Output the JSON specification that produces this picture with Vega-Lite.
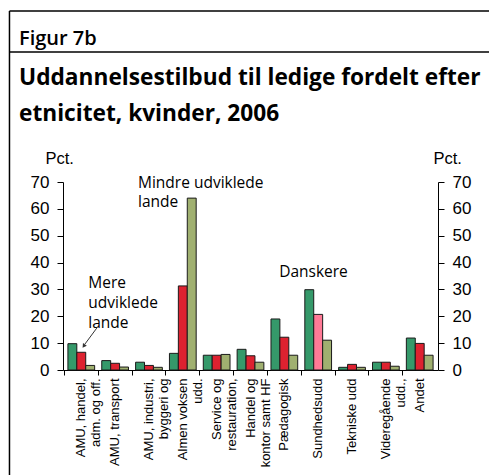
{
  "$schema": "https://vega.github.io/schema/vega-lite/v6.json",
  "width": 375,
  "height": 188,
  "autosize": {"type": "none"},
  "padding": {"left": 63, "top": 182, "right": 51, "bottom": 105},
  "background": "white",
  "title": {
    "text": "Figur 7b",
    "subtitle": ["Uddannelsestilbud til ledige fordelt efter", "etnicitet, kvinder, 2006"],
    "anchor": "start",
    "frame": "group",
    "dx": -44,
    "dy": 130,
    "font": "Open Sans",
    "fontSize": 20,
    "fontWeight": 600,
    "color": "#000000",
    "subtitleFont": "Open Sans",
    "subtitleFontSize": 22.7,
    "subtitleFontWeight": 700,
    "subtitleColor": "#000000",
    "subtitleLineHeight": 36,
    "subtitlePadding": 18,
    "offset": 14
  },
  "config": {
    "view": {"stroke": null},
    "axis": {"domainColor": "#000000", "tickColor": "#000000", "labelColor": "#000000", "titleColor": "#000000", "grid": false}
  },
  "data": {
    "values": [
      {"Uddannelse": "AMU, handel,|adm. og off.", "Gruppe": "Danskere", "Pct": 9.8},
      {"Uddannelse": "AMU, handel,|adm. og off.", "Gruppe": "Mere udviklede lande", "Pct": 6.6},
      {"Uddannelse": "AMU, handel,|adm. og off.", "Gruppe": "Mindre udviklede lande", "Pct": 1.7},
      {"Uddannelse": "AMU, transport", "Gruppe": "Danskere", "Pct": 3.5},
      {"Uddannelse": "AMU, transport", "Gruppe": "Mere udviklede lande", "Pct": 2.5},
      {"Uddannelse": "AMU, transport", "Gruppe": "Mindre udviklede lande", "Pct": 1.1},
      {"Uddannelse": "AMU, industri,|byggeri og", "Gruppe": "Danskere", "Pct": 2.9},
      {"Uddannelse": "AMU, industri,|byggeri og", "Gruppe": "Mere udviklede lande", "Pct": 1.7},
      {"Uddannelse": "AMU, industri,|byggeri og", "Gruppe": "Mindre udviklede lande", "Pct": 1.0},
      {"Uddannelse": "Almen voksen|udd.", "Gruppe": "Danskere", "Pct": 6.2},
      {"Uddannelse": "Almen voksen|udd.", "Gruppe": "Mere udviklede lande", "Pct": 31.3},
      {"Uddannelse": "Almen voksen|udd.", "Gruppe": "Mindre udviklede lande", "Pct": 64.0},
      {"Uddannelse": "Service og|restauration,", "Gruppe": "Danskere", "Pct": 5.5},
      {"Uddannelse": "Service og|restauration,", "Gruppe": "Mere udviklede lande", "Pct": 5.5},
      {"Uddannelse": "Service og|restauration,", "Gruppe": "Mindre udviklede lande", "Pct": 5.8},
      {"Uddannelse": "Handel og|kontor samt HF", "Gruppe": "Danskere", "Pct": 7.7},
      {"Uddannelse": "Handel og|kontor samt HF", "Gruppe": "Mere udviklede lande", "Pct": 5.3},
      {"Uddannelse": "Handel og|kontor samt HF", "Gruppe": "Mindre udviklede lande", "Pct": 2.9},
      {"Uddannelse": "Pædagogisk", "Gruppe": "Danskere", "Pct": 19.0},
      {"Uddannelse": "Pædagogisk", "Gruppe": "Mere udviklede lande", "Pct": 12.2},
      {"Uddannelse": "Pædagogisk", "Gruppe": "Mindre udviklede lande", "Pct": 5.5},
      {"Uddannelse": "Sundhedsudd", "Gruppe": "Danskere", "Pct": 29.9},
      {"Uddannelse": "Sundhedsudd", "Gruppe": "Mere udviklede lande", "Pct": 20.7},
      {"Uddannelse": "Sundhedsudd", "Gruppe": "Mindre udviklede lande", "Pct": 11.1},
      {"Uddannelse": "Tekniske udd", "Gruppe": "Danskere", "Pct": 1.0},
      {"Uddannelse": "Tekniske udd", "Gruppe": "Mere udviklede lande", "Pct": 2.1},
      {"Uddannelse": "Tekniske udd", "Gruppe": "Mindre udviklede lande", "Pct": 1.0},
      {"Uddannelse": "Videregående|udd.,", "Gruppe": "Danskere", "Pct": 2.9},
      {"Uddannelse": "Videregående|udd.,", "Gruppe": "Mere udviklede lande", "Pct": 2.9},
      {"Uddannelse": "Videregående|udd.,", "Gruppe": "Mindre udviklede lande", "Pct": 1.4},
      {"Uddannelse": "Andet", "Gruppe": "Danskere", "Pct": 11.9},
      {"Uddannelse": "Andet", "Gruppe": "Mere udviklede lande", "Pct": 9.9},
      {"Uddannelse": "Andet", "Gruppe": "Mindre udviklede lande", "Pct": 5.5}
    ]
  },
  "resolve": {"scale": {"x": "independent", "y": "independent"}, "axis": {"x": "independent", "y": "independent"}},
  "layer": [
    {
      "mark": {"type": "bar", "stroke": "#1a1a1a", "strokeWidth": 1},
      "encoding": {
        "x": {
          "field": "Uddannelse", "type": "nominal", "sort": null,
          "scale": {"paddingInner": 0.21, "paddingOuter": 0.145},
          "axis": {
            "title": null, "labelAngle": -90, "labelFont": "Liberation Sans", "labelFontSize": 13,
            "labelLineHeight": 15, "labelExpr": "split(datum.label, '|')", "labelPadding": 3,
            "tickSize": 5, "bandPosition": -0.133, "labelLimit": 200
          }
        },
        "xOffset": {"field": "Gruppe", "type": "nominal", "scale": {"domain": ["Danskere", "Mere udviklede lande", "Mindre udviklede lande"], "paddingInner": 0, "paddingOuter": 0}},
        "y": {
          "field": "Pct", "type": "quantitative",
          "scale": {"domain": [0, 70], "nice": false},
          "axis": {
            "orient": "left", "values": [0, 10, 20, 30, 40, 50, 60, 70],
            "labelFont": "Liberation Sans", "labelFontSize": 17, "labelPadding": 8, "tickSize": 6,
            "title": "Pct.", "titleAngle": 0, "titleAlign": "left", "titleBaseline": "alphabetic",
            "titleFont": "Liberation Sans", "titleFontSize": 16.5, "titleFontWeight": "normal",
            "titleX": -18, "titleY": -19
          }
        },
        "color": {
          "condition": {"test": "datum.Uddannelse === 'Sundhedsudd' && datum.Gruppe === 'Mere udviklede lande'", "value": "#ff7a96"},
          "field": "Gruppe", "type": "nominal",
          "scale": {"domain": ["Danskere", "Mere udviklede lande", "Mindre udviklede lande"], "range": ["#35996a", "#dd2230", "#a0b070"]},
          "legend": null
        }
      }
    },
    {
      "data": {"values": [{}]},
      "mark": {"type": "rule", "strokeOpacity": 0},
      "encoding": {
        "y": {
          "datum": 0, "type": "quantitative",
          "scale": {"domain": [0, 70], "nice": false},
          "axis": {
            "orient": "right", "values": [0, 10, 20, 30, 40, 50, 60, 70],
            "labelFont": "Liberation Sans", "labelFontSize": 17, "labelPadding": 8, "tickSize": 6,
            "title": "Pct.", "titleAngle": 0, "titleAlign": "left", "titleBaseline": "alphabetic",
            "titleFont": "Liberation Sans", "titleFontSize": 16.5, "titleFontWeight": "normal",
            "titleX": -5, "titleY": -19
          }
        }
      }
    },
    {
      "data": {"values": [{}]},
      "mark": {"type": "text", "align": "left", "baseline": "alphabetic", "font": "Open Sans", "fontSize": 15.5, "lineHeight": 20, "color": "#000000",
        "text": ["Mere", "udviklede", "lande"]},
      "encoding": {
        "x": {"datum": 0.742, "type": "quantitative", "scale": {"domain": [0, 11]}, "axis": null},
        "y": {"datum": 30.5, "type": "quantitative", "scale": {"domain": [0, 70], "nice": false}, "axis": null}
      }
    },
    {
      "data": {"values": [{}]},
      "mark": {"type": "text", "align": "left", "baseline": "alphabetic", "font": "Open Sans", "fontSize": 15.5, "lineHeight": 19, "color": "#000000",
        "text": ["Mindre udviklede", "lande"]},
      "encoding": {
        "x": {"datum": 2.2, "type": "quantitative", "scale": {"domain": [0, 11]}, "axis": null},
        "y": {"datum": 67.8, "type": "quantitative", "scale": {"domain": [0, 70], "nice": false}, "axis": null}
      }
    },
    {
      "data": {"values": [{}]},
      "mark": {"type": "text", "align": "left", "baseline": "alphabetic", "font": "Open Sans", "fontSize": 15.5, "color": "#000000", "text": "Danskere"},
      "encoding": {
        "x": {"datum": 6.34, "type": "quantitative", "scale": {"domain": [0, 11]}, "axis": null},
        "y": {"datum": 34.6, "type": "quantitative", "scale": {"domain": [0, 70], "nice": false}, "axis": null}
      }
    },
    {
      "data": {"values": [{}]},
      "mark": {"type": "rule", "color": "#333333", "strokeWidth": 1},
      "encoding": {
        "x": {"datum": 0.99, "type": "quantitative", "scale": {"domain": [0, 11]}, "axis": null},
        "x2": {"datum": 0.64},
        "y": {"datum": 15.6, "type": "quantitative", "scale": {"domain": [0, 70], "nice": false}, "axis": null},
        "y2": {"datum": 9.6}
      }
    },
    {
      "data": {"values": [{}]},
      "mark": {"type": "point", "shape": "triangle", "filled": true, "color": "#333333", "size": 22, "angle": 215, "opacity": 1},
      "encoding": {
        "x": {"datum": 0.62, "type": "quantitative", "scale": {"domain": [0, 11]}, "axis": null},
        "y": {"datum": 9.1, "type": "quantitative", "scale": {"domain": [0, 70], "nice": false}, "axis": null}
      }
    },
    {
      "data": {"values": [{}]},
      "mark": {"type": "rule", "color": "#000000", "strokeWidth": 1.5},
      "encoding": {
        "x": {"datum": -1.57, "type": "quantitative", "scale": {"domain": [0, 11]}, "axis": null},
        "y": {"datum": 133.7, "type": "quantitative", "scale": {"domain": [0, 70], "nice": false}, "axis": null},
        "y2": {"datum": -45}
      }
    },
    {
      "data": {"values": [{}]},
      "mark": {"type": "rule", "color": "#000000", "strokeWidth": 1.5},
      "encoding": {
        "x": {"datum": -1.57, "type": "quantitative", "scale": {"domain": [0, 11]}, "axis": null},
        "x2": {"datum": 13},
        "y": {"datum": 133.7, "type": "quantitative", "scale": {"domain": [0, 70], "nice": false}, "axis": null}
      }
    },
    {
      "data": {"values": [{}]},
      "mark": {"type": "rule", "color": "#000000", "strokeWidth": 1.5},
      "encoding": {
        "x": {"datum": -1.57, "type": "quantitative", "scale": {"domain": [0, 11]}, "axis": null},
        "x2": {"datum": 13},
        "y": {"datum": 118.4, "type": "quantitative", "scale": {"domain": [0, 70], "nice": false}, "axis": null}
      }
    }
  ]
}
